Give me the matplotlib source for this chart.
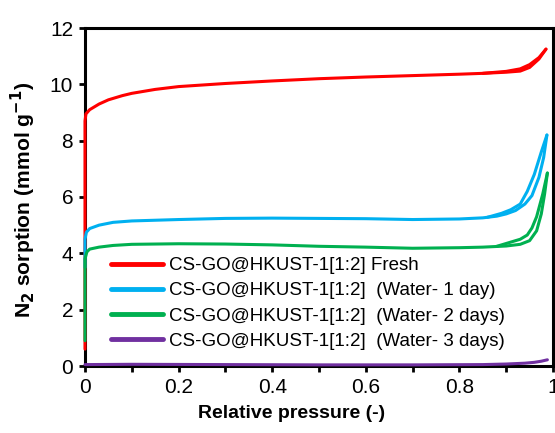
import matplotlib
matplotlib.use("Agg")
import matplotlib.pyplot as plt
from matplotlib.ticker import MultipleLocator, FuncFormatter

plt.rcParams["font.family"] = ["Liberation Sans", "DejaVu Sans"]

# --- data (adsorption + desorption branches) ---
fresh_ads_p = [0, 0, 0.002, 0.01, 0.03, 0.05, 0.08, 0.1, 0.15, 0.2, 0.3, 0.4, 0.5,
               0.6, 0.7, 0.8, 0.85, 0.9, 0.93, 0.95, 0.97, 0.985]
fresh_ads_v = [0.6, 8.7, 8.95, 9.1, 9.3, 9.45, 9.6, 9.68, 9.82, 9.92, 10.03, 10.12, 10.2,
               10.26, 10.31, 10.36, 10.39, 10.43, 10.47, 10.6, 10.9, 11.25]
fresh_des_p = [0.985, 0.97, 0.95, 0.93, 0.9, 0.85]
fresh_des_v = [11.25, 10.95, 10.7, 10.55, 10.46, 10.39]

day1_ads_p = [0, 0, 0.003, 0.01, 0.03, 0.06, 0.1, 0.2, 0.3, 0.4, 0.5, 0.6, 0.7, 0.8,
              0.85, 0.88, 0.9, 0.92, 0.94, 0.955, 0.97, 0.98, 0.987]
day1_ads_v = [3.5, 4.5, 4.75, 4.88, 5.0, 5.1, 5.15, 5.2, 5.24, 5.25, 5.24, 5.23, 5.2, 5.22,
              5.26, 5.32, 5.4, 5.52, 5.75, 6.05, 6.7, 7.4, 8.2]
day1_des_p = [0.987, 0.975, 0.96, 0.945, 0.93, 0.91, 0.89, 0.86]
day1_des_v = [8.2, 7.6, 6.8, 6.2, 5.75, 5.55, 5.42, 5.28]

day2_ads_p = [0, 0, 0.004, 0.01, 0.03, 0.06, 0.1, 0.2, 0.3, 0.4, 0.5, 0.6, 0.7, 0.8,
              0.85, 0.9, 0.93, 0.95, 0.965, 0.975, 0.982, 0.988]
day2_ads_v = [0.9, 3.8, 4.05, 4.15, 4.22, 4.28, 4.32, 4.34, 4.33, 4.3, 4.25, 4.22, 4.18, 4.2,
              4.22, 4.26, 4.32, 4.45, 4.8, 5.4, 6.1, 6.85]
day2_des_p = [0.988, 0.978, 0.965, 0.955, 0.945, 0.93, 0.91, 0.88]
day2_des_v = [6.85, 6.1, 5.3, 4.9, 4.65, 4.5, 4.4, 4.25]

day3_p = [0, 0.1, 0.3, 0.5, 0.7, 0.85, 0.9, 0.94, 0.96, 0.975, 0.988]
day3_v = [0.05, 0.06, 0.05, 0.04, 0.04, 0.05, 0.07, 0.1, 0.13, 0.17, 0.22]

labels = ["CS-GO@HKUST-1[1:2] Fresh",
          "CS-GO@HKUST-1[1:2]  (Water- 1 day)",
          "CS-GO@HKUST-1[1:2]  (Water- 2 days)",
          "CS-GO@HKUST-1[1:2]  (Water- 3 days)"]
colors = ["#FF0000", "#00B0F0", "#00B050", "#7030A0"]

fig = plt.figure(figsize=(5.55, 4.33), dpi=100)
ax = fig.add_axes([85 / 555, 1 - 366 / 433, 468 / 555, 338 / 433])

series = [
    [(fresh_ads_p, fresh_ads_v), (fresh_des_p, fresh_des_v)],
    [(day1_ads_p, day1_ads_v), (day1_des_p, day1_des_v)],
    [(day2_ads_p, day2_ads_v), (day2_des_p, day2_des_v)],
    [(day3_p, day3_v)],
]
lw = 2.2
for branches, label, color in zip(series, labels, colors):
    for i, (p, v) in enumerate(branches):
        ax.plot(p, v, color=color, linewidth=lw, solid_capstyle="round",
                label=label if i == 0 else None, zorder=3, clip_on=False)

ax.set_xlim(0, 1)
ax.set_ylim(0, 12)
ax.xaxis.set_major_locator(MultipleLocator(0.2))
ax.xaxis.set_minor_locator(MultipleLocator(0.1))
ax.yaxis.set_major_locator(MultipleLocator(2))
ax.xaxis.set_major_formatter(FuncFormatter(lambda x, _: f"{x:g}"))
ax.tick_params(which="both", direction="out", length=4.5, width=2, labelsize=15,
               top=False, right=False, pad=4)
for s in ax.spines.values():
    s.set_linewidth(2.2)
    s.set_color("black")

ax.set_xlabel("Relative pressure (-)", fontsize=14, fontweight="bold")
ax.xaxis.set_label_coords((292 - 85) / 468, -0.115)
ax.set_ylabel(r"N$_\mathbf{2}$ sorption (mmol g$^\mathbf{-1}$)", fontsize=15.2,
              fontweight="bold")
ax.yaxis.set_label_coords(-0.1, 0.49)

leg = ax.legend(loc="upper left", bbox_to_anchor=(0.055, 0.322), frameon=False,
                fontsize=13.5, handlelength=2.8, handletextpad=0.3,
                labelspacing=0.43, borderpad=0, borderaxespad=0)
for line in leg.get_lines():
    line.set_linewidth(3.5)

fig.savefig("out.png", dpi=100)
